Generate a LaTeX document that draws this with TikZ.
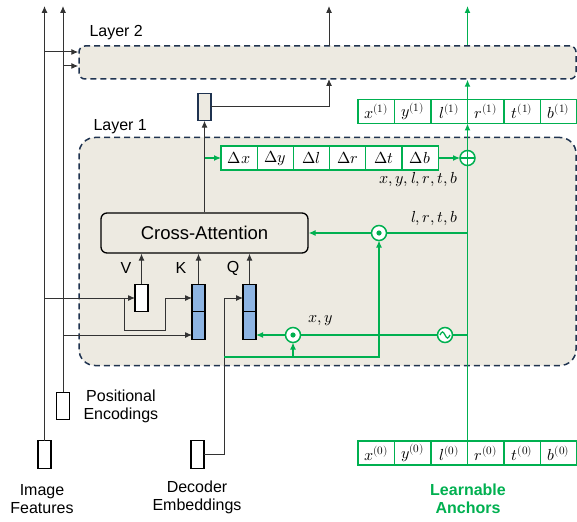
\documentclass[tikz,border=0pt]{standalone}
\usepackage{fontspec}
\setmainfont{Liberation Sans}
\usepackage{unicode-math}
\setmathfont{Latin Modern Math}
\usetikzlibrary{arrows.meta}
\definecolor{anchgreen}{HTML}{00B050}
\definecolor{layerfill}{HTML}{EDEAE1}
\definecolor{layerline}{HTML}{1F3350}
\definecolor{tokblue}{HTML}{8DB4E2}
\definecolor{wiregray}{HTML}{333333}

\tikzset{
  layerbox/.style={draw=layerline, fill=layerfill, line width=1.5pt, dash pattern=on 6pt off 4pt},
  tok/.style={draw=black, line width=1.3pt, minimum width=13pt, minimum height=27.5pt, inner sep=0pt, outer sep=0pt},
  cell/.style={draw=anchgreen, fill=white, line width=1.3pt, minimum width=36.2pt, minimum height=24pt, inner sep=0pt, outer sep=0pt, font=\fontsize{16}{16}\selectfont},
  op/.style={draw=anchgreen, fill=white, line width=1.5pt, circle, minimum size=15pt, inner sep=0pt, outer sep=0pt},
  lbl/.style={font=\fontsize{16}{18}\selectfont, align=center},
  arr/.style={-{Latex[length=7pt,width=6pt]}},
  wire/.style={draw=wiregray, line width=1pt},
  gwire/.style={draw=anchgreen, line width=1.2pt},
}

\begin{document}
\begin{tikzpicture}[x=1pt,y=-1pt]
\useasboundingbox (0,0) rectangle (577,521);

%layers
\node[layerbox, rounded corners=6pt, minimum width=497pt, minimum height=33pt] (layer2) at (327.5,62.5) {};
\node[lbl, anchor=west] (l2lab) at (86,33) {Layer 2};
\node[layerbox, rounded corners=16pt, minimum width=497pt, minimum height=228pt] (layer1) at (327.5,251.5) {};
\node[lbl, anchor=west] (l1lab) at (90,127) {Layer 1};

%inputs
\node[tok, fill=white] (imgf) at (44.5,454.5) {};
\node[tok, fill=white] (posenc) at (63,406) {};
\node[tok, fill=white] (decemb) at (197.5,454.5) {};
\node[lbl] (imglab) at (42,499) {Image\\Features};
\node[lbl, anchor=west] (poslab) at (80,406) {Positional\\Encodings};
\node[lbl] (declab) at (197,497) {Decoder\\Embeddings};

%attention
\node[draw, line width=1.3pt, rounded corners=6pt, minimum width=207pt, minimum height=40pt, font=\fontsize{18.5}{20}\selectfont] (ca) at (204.5,233) {Cross-Attention};
\node[tok, fill=white] (vtok) at (141.5,298) {};
\node[tok, fill=tokblue] (k1) at (198.5,298) {};
\node[tok, fill=tokblue] (k2) at (198.5,325.5) {};
\node[tok, fill=tokblue] (q1) at (249.5,298) {};
\node[tok, fill=tokblue] (q2) at (249.5,325.5) {};
\node[lbl] (vlab) at (126,268) {V};
\node[lbl] (klab) at (181,268) {K};
\node[lbl] (qlab) at (233,268) {Q};
\node[tok, fill=layerfill, draw=layerline] (outtok) at (204.5,107) {};

%offsets and anchors
\foreach \lab [count=\i] in {\Delta x,\Delta y,\Delta l,\Delta r,\Delta t,\Delta b}
  \node[cell] (d\i) at ({221+36.2*(\i-0.5)},158) {$\lab$};
\foreach \v [count=\i] in {x,y,l,r,t,b}{
  \node[cell, minimum width=36.5pt] (a\i) at ({358+36.5*(\i-0.5)},111.5) {$\v^{(1)}$};
  \node[cell, minimum width=36.5pt] (z\i) at ({358+36.5*(\i-0.5)},453) {$\v^{(0)}$};
}
\node[lbl, font=\fontsize{16}{18}\selectfont\bfseries, text=anchgreen] (anclab) at (468,499) {Learnable\\Anchors};

%operators
\node[op] (oplus) at (467.5,158) {};
\draw[anchgreen, line width=1.5pt] (oplus.north) -- (oplus.south) (oplus.west) -- (oplus.east);
\node[op] (dot1) at (379,233) {};
\fill[anchgreen] (dot1) circle (2.6pt);
\node[op] (dot2) at (293,335) {};
\fill[anchgreen] (dot2) circle (2.6pt);
\node[op] (wave) at (445,335) {};
\draw[anchgreen, line width=1.3pt] ([xshift=-5pt]wave.center) sin ++(2.5pt,3pt) cos ++(2.5pt,-3pt) sin ++(2.5pt,-3pt) cos ++(2.5pt,3pt);

\node[anchor=east, font=\fontsize{16}{16}\selectfont] (alllab) at (461,180) {$x,y,l,r,t,b$};
\node[anchor=east, font=\fontsize{16}{16}\selectfont] (lrtblab) at (461,218) {$l,r,t,b$};
\node[font=\fontsize{16}{16}\selectfont] (xylab) at (321,321) {$x,y$};

%free ends
\coordinate (imgtop) at (44.5,6);
\coordinate (postop) at (63,6);
\coordinate (l2img) at (44.5,52);
\coordinate (l2pos) at (63,66);
\coordinate (vsplit) at (124,298);
\coordinate (k2in) at ([yshift=-9.5pt]k2.west);
\coordinate (l2in) at (329,79);
\coordinate (l2out) at (329,46);
\coordinate (l2top) at (329,6);
\coordinate (gtop) at (467.5,6);
\coordinate (gstart) at (224,357);

%black wires
\draw[wire,arr] (imgf.north) -- (imgtop);
\draw[wire,arr] (posenc.north) -- (postop);
\draw[wire,arr] (l2img) -- (l2img -| layer2.west);
\draw[wire,arr] (l2pos) -- (l2pos -| layer2.west);
\draw[wire,arr] (imgf |- vtok) -- (vtok.west);
\draw[wire,arr] (vsplit) -- ++(0,32) -| ([xshift=-27pt]k1.west) -- (k1.west);
\draw[wire,arr] (posenc.north |- k2in) -- (k2in);
\draw[wire,arr] (decemb.east) -| ([xshift=-19pt]q1.west) -- (q1.west);
\draw[wire,arr] (vtok.north) -- (vtok.north |- ca.south);
\draw[wire,arr] (k1.north) -- (k1.north |- ca.south);
\draw[wire,arr] (q1.north) -- (q1.north |- ca.south);
\draw[wire,arr] (ca.north) -- (outtok.south);
\draw[wire,arr] (outtok.east) -| (l2in);
\draw[wire,arr] (l2out) -- (l2top);

%green wires
\draw[gwire,arr] (ca.north |- d1) -- (d1.west);
\draw[gwire,arr] (d6.east) -- (oplus.west);
\draw[gwire] (z3.north east) -- (oplus.south);
\draw[gwire,arr] (oplus.north) -- (a3.south east);
\draw[gwire,arr] (a3.north east) -- (a3.north east |- layer2.south);
\draw[gwire,arr] (a3.north east |- layer2.north) -- (gtop);
\draw[gwire] (oplus |- dot1) -- (dot1.east);
\draw[gwire,arr] (dot1.west) -- (ca.east);
\draw[gwire] (oplus |- wave) -- (wave.east);
\draw[gwire] (wave.west) -- (dot2.east);
\draw[gwire,arr] (dot2.west) -- (q2.east |- dot2);
\draw[gwire,arr] (gstart) -| (dot1.south);
\draw[gwire,arr] (dot2 |- gstart) -- (dot2.south);
\end{tikzpicture}
\end{document}
